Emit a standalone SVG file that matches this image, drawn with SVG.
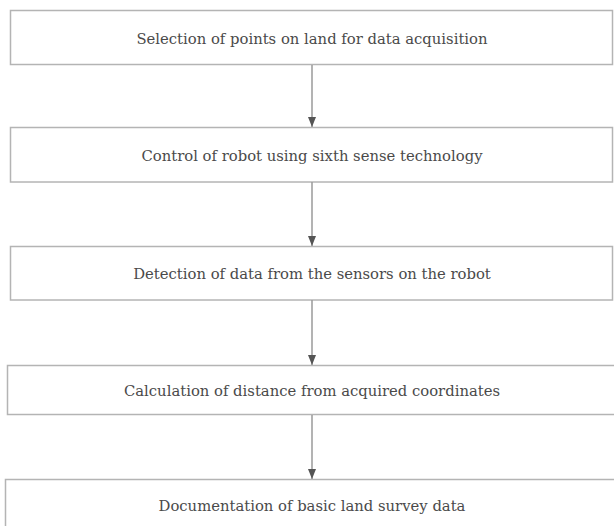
<svg xmlns="http://www.w3.org/2000/svg" width="614" height="526" viewBox="0 0 614 526">
<style>
.box{fill:#fff;stroke:#b4b4b4;stroke-width:1.5}
.lbl{font-family:"DejaVu Serif","Liberation Serif",serif;font-size:14.8px;fill:#4a4a4a;text-anchor:middle;dominant-baseline:central}
.conn{stroke:#9a9a9a;stroke-width:1.5;fill:none}
</style>
<defs>
<marker id="ah" markerWidth="10" markerHeight="8" refX="10" refY="4" orient="auto" markerUnits="userSpaceOnUse">
<path d="M0,0 L10,4 L0,8 Z" fill="#555"/>
</marker>
</defs>
<rect width="614" height="526" fill="#fff"/>
<g id="n1"><rect class="box" x="10.5" y="10.5" width="602" height="54"/><text class="lbl" x="312" y="38">Selection of points on land for data acquisition</text></g>
<g id="n2"><rect class="box" x="10.5" y="127.5" width="602" height="54.5"/><text class="lbl" x="312" y="155">Control of robot using sixth sense technology</text></g>
<g id="n3"><rect class="box" x="10.5" y="246.5" width="602" height="53.5"/><text class="lbl" x="312" y="273">Detection of data from the sensors on the robot</text></g>
<g id="n4"><rect class="box" x="7.5" y="365.5" width="620" height="49"/><text class="lbl" x="312" y="390">Calculation of distance from acquired coordinates</text></g>
<g id="n5"><rect class="box" x="5.5" y="479.5" width="620" height="60"/><text class="lbl" x="312" y="505">Documentation of basic land survey data</text></g>
<g id="connectors">
<line class="conn" x1="312" y1="65" x2="312" y2="127" marker-end="url(#ah)"/>
<line class="conn" x1="312" y1="182" x2="312" y2="246" marker-end="url(#ah)"/>
<line class="conn" x1="312" y1="300" x2="312" y2="365" marker-end="url(#ah)"/>
<line class="conn" x1="312" y1="415" x2="312" y2="479" marker-end="url(#ah)"/>
</g>
</svg>
